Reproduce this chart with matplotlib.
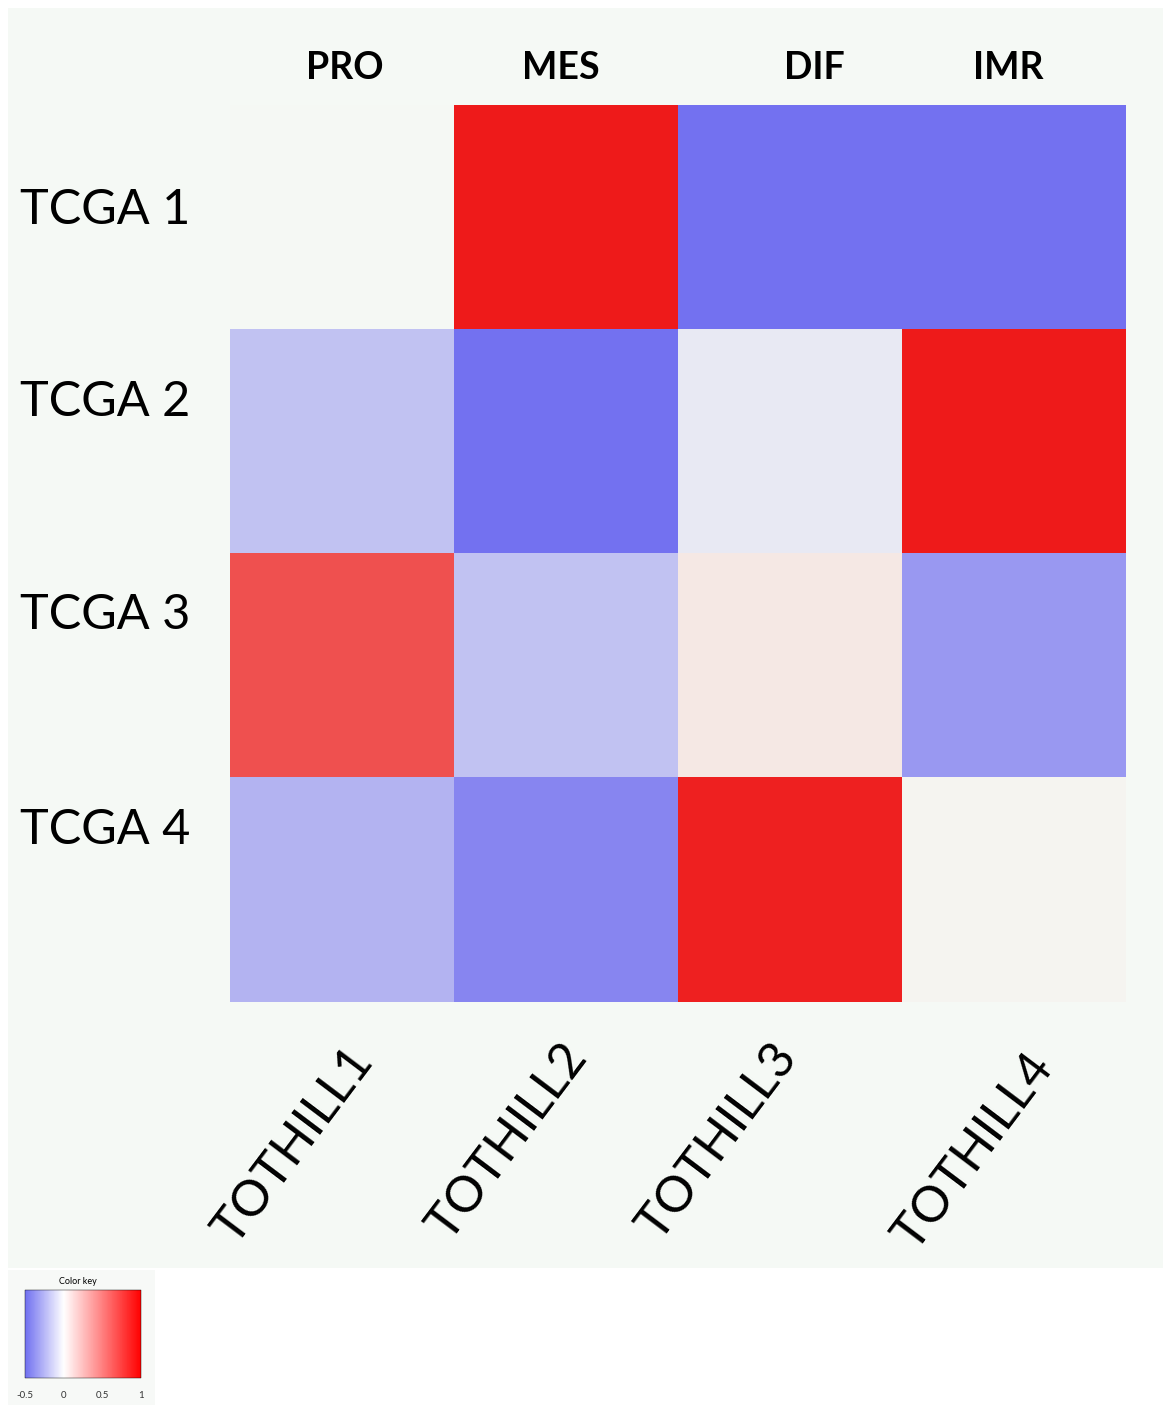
import numpy as np
import matplotlib
matplotlib.use("Agg")
import matplotlib.pyplot as plt
from matplotlib.colors import LinearSegmentedColormap, Normalize
from matplotlib.patches import Rectangle
from matplotlib.cm import ScalarMappable

rows = ["TCGA 1", "TCGA 2", "TCGA 3", "TCGA 4"]
top_labels = ["PRO", "MES", "DIF", "IMR"]
cols = ["TOTHILL 1", "TOTHILL 2", "TOTHILL 3", "TOTHILL 4"]
values = np.array([
    [0.00, 1.00, -0.50, -0.50],
    [-0.20, -0.50, -0.05, 1.00],
    [0.75, -0.20, 0.07, -0.35],
    [-0.25, -0.42, 0.97, 0.02],
])
key_ticks = [-0.5, 0, 0.5, 1]

W, H, DPI = 1163, 1405, 100
plt.rcParams["font.family"] = ["Lato", "DejaVu Sans"]

fig = plt.figure(figsize=(W / DPI, H / DPI), dpi=DPI)
fig.patch.set_facecolor("white")


def fx(x):
    return x / W


def fy(y):
    return 1 - y / H


# light panels behind the heatmap and the key
fig.patches.append(Rectangle((fx(8), fy(1268)), fx(1155), 1260 / H,
                             transform=fig.transFigure, facecolor="#F5F9F5",
                             edgecolor="none", zorder=-5))
fig.patches.append(Rectangle((fx(8), fy(1405)), fx(147), 135 / H,
                             transform=fig.transFigure, facecolor="#F7F9F7",
                             edgecolor="none", zorder=-5))

cmap = LinearSegmentedColormap.from_list(
    "bwr_key", [(0.0, "#7371F0"), (1 / 3, "#F6F8F4"), (1.0, "#EE1A1A")])
norm = Normalize(vmin=-0.5, vmax=1.0)

ax = fig.add_axes([fx(230), fy(1002), fx(896), 897 / H])
ax.imshow(values, cmap=cmap, norm=norm, aspect="auto", interpolation="nearest")
ax.set_axis_off()

# column group labels on top
for x, lab in zip([345, 561, 814, 1008], top_labels):
    fig.text(fx(x), fy(68), lab, ha="center", va="center",
             fontsize=27, fontweight="bold", color="black")

# row labels
for y, lab in zip([210, 402, 615, 830], rows):
    fig.text(fx(20), fy(y), lab, ha="left", va="center",
             fontsize=35, color="black")

# rotated column labels
for (x, y), lab in zip([(364, 1053), (578, 1049), (788, 1049), (1044, 1059)], cols):
    fig.text(fx(x), fy(y), lab.replace(" ", ""), ha="right", va="center",
             rotation=53, rotation_mode="anchor", fontsize=36, color="black")

# colour key
kax = fig.add_axes([fx(25), fy(1378), fx(116), 88 / H])
cb = fig.colorbar(ScalarMappable(norm=norm, cmap=LinearSegmentedColormap.from_list(
    "key", [(0.0, "#7070F0"), (1 / 3, "#FFFFFF"), (1.0, "#FF0000")])),
    cax=kax, orientation="horizontal", ticks=key_ticks)
cb.set_ticklabels(["-0.5", "0", "0.5", "1"])
cb.ax.tick_params(labelsize=7, length=0, pad=9, colors="#333333")
cb.outline.set_linewidth(0.3)
fig.text(fx(78), fy(1281), "Color key", ha="center", va="center", fontsize=6.5)

fig.savefig("out.png", dpi=DPI)
